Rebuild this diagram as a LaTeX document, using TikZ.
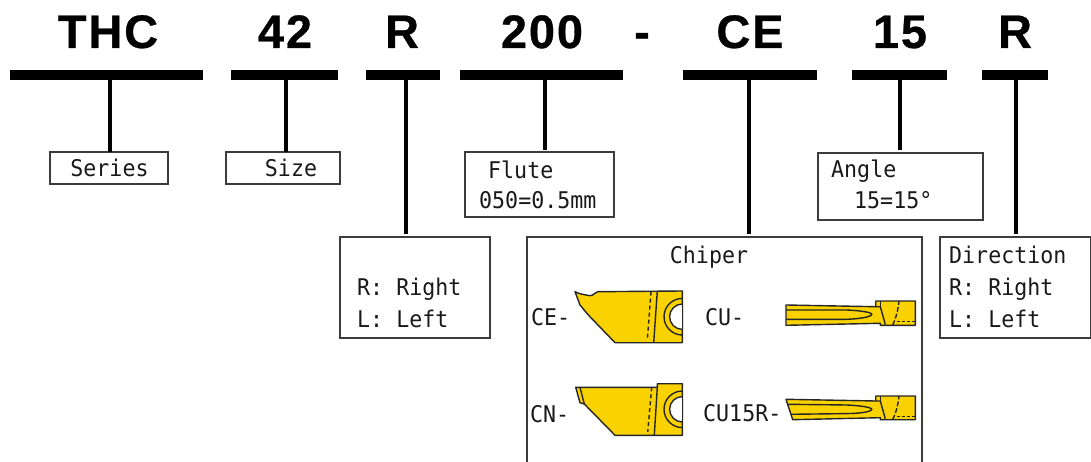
\documentclass[tikz,border=0pt]{standalone}
\usepackage{fontspec}
\setmainfont{Liberation Sans}
\newfontfamily\headfont[LetterSpace=4,Ligatures=NoCommon,FakeBold=0.6]{Liberation Sans Bold}
\newfontfamily\labfont[FakeStretch=0.94]{DejaVu Sans Mono}
\definecolor{insert}{RGB}{250,210,0}
\definecolor{boxline}{RGB}{60,60,60}
\begin{document}
\begin{tikzpicture}[x=1pt,y=-1pt,
  head/.style={font=\headfont\fontsize{47}{47}\selectfont,inner sep=0pt,anchor=base,text=black},
  bar/.style={fill=black,draw=none,inner sep=0pt,minimum height=10pt},
  conn/.style={line width=4pt,draw=black},
  lbox/.style={draw=boxline,line width=1.2pt,fill=none,inner sep=0pt,outer sep=0pt,anchor=north west},
  lab/.style={font=\labfont\fontsize{23}{23}\selectfont,inner sep=0pt,anchor=base west,text=black!90},
  tool/.style={fill=insert,draw=black!85,line width=1.4pt,line join=round},
  edge1/.style={draw=black!85,line width=1.4pt},
  dash1/.style={draw=black!85,line width=1.4pt,dash pattern=on 4pt off 3pt}]
\useasboundingbox (0,0) rectangle (1091,462);
% headings
\node[head] (h1) at (108,48) {THC};
\node[head] (h2) at (285,48) {42};
\node[head] (h3) at (402,48) {R};
\node[head] (h4) at (542,48) {200};
\node[head] (h5) at (642,48) {-};
\node[head] (h6) at (750,48) {CE};
\node[head] (h7) at (900,48) {15};
\node[head] (h8) at (1015,48) {R};
% bars
\node[bar,minimum width=193pt] (b1) at (106.5,75) {};
\node[bar,minimum width=107pt] (b2) at (284.5,75) {};
\node[bar,minimum width=74pt] (b3) at (403,75) {};
\node[bar,minimum width=163pt] (b4) at (541.5,75) {};
\node[bar,minimum width=134pt] (b5) at (750,75) {};
\node[bar,minimum width=95pt] (b6) at (899.5,75) {};
\node[bar,minimum width=66pt] (b7) at (1015,75) {};
% boxes
\node[lbox,minimum width=118pt,minimum height=32pt] (s1) at (50,152) {};
\node[lbox,minimum width=114pt,minimum height=32pt] (s2) at (226,152) {};
\node[lbox,minimum width=150pt,minimum height=101pt] (s3) at (340,237) {};
\node[lbox,minimum width=149pt,minimum height=65pt] (s4) at (465,152) {};
\node[lbox,minimum width=165pt,minimum height=67pt] (s6) at (818,153) {};
\node[lbox,minimum width=151pt,minimum height=101pt] (s7) at (940,237) {};
\node[lbox,draw=none,minimum width=395pt,minimum height=225pt] (s5) at (527,237) {};
\draw[boxline,line width=1.2pt] (s5.south west) -- (s5.north west) -- (s5.north east) -- (s5.south east);
% connectors
\coordinate (c1) at (110,0); \coordinate (c2) at (286,0); \coordinate (c3) at (406,0);
\coordinate (c4) at (545,0); \coordinate (c5) at (749,0); \coordinate (c6) at (900,0);
\coordinate (c7) at (1016,0);
\draw[conn] (b1.south -| c1) -- (s1.north -| c1);
\draw[conn] (b2.south -| c2) -- (s2.north -| c2);
\draw[conn,shorten >=3pt] (b3.south -| c3) -- (s3.north -| c3);
\draw[conn,shorten >=2pt] (b4.south -| c4) -- (s4.north -| c4);
\draw[conn,shorten >=3pt] (b5.south -| c5) -- (s5.north -| c5);
\draw[conn,shorten >=3pt] (b6.south -| c6) -- (s6.north -| c6);
\draw[conn,shorten >=3pt] (b7.south -| c7) -- (s7.north -| c7);
% labels
\node[lab,anchor=base] (t1) at (109.5,177) {Series};
\node[lab,anchor=base] (t2) at (291,177) {Size};
\node[lab] (t3) at (357,295) {R: Right};
\node[lab] (t4) at (357,327) {L: Left};
\node[lab] (t5) at (488,179) {Flute};
\node[lab] (t6) at (479,209) {050=0.5mm};
\node[lab] (t7) at (831,178) {Angle};
\node[lab] (t8) at (854,209) {15=15°};
\node[lab,anchor=base] (t9) at (709,263) {Chiper};
\node[lab] (t10) at (949,263) {Direction};
\node[lab] (t11) at (949,295) {R: Right};
\node[lab] (t12) at (949,327) {L: Left};
\node[lab] (t13) at (531,325) {CE-};
\node[lab] (t14) at (705,325) {CU-};
\node[lab] (t15) at (530,422) {CN-};
\node[lab] (t16) at (703,421) {CU15R-};
% CE insert
\draw[tool] (575,291.7) .. controls (579,294) and (586,295) .. (590,295.7) .. controls (594,295.5) and (595,292) .. (597.7,291.7) -- (682.3,291) -- (682.3,342.7) -- (615,342.7) -- (588.3,315) -- (580,305) -- cycle;
\draw[edge1] (657.3,291) -- (653.7,342.7);
\draw[dash1] (651,291.7) -- (647.3,340);
\fill[white] (682.3,304) arc[start angle=-90,end angle=-270,radius=12.7] -- cycle;
\draw[edge1] (682.3,298.4) arc[start angle=-90,end angle=-270,radius=18.3];
\draw[edge1] (682.3,304) arc[start angle=-90,end angle=-270,radius=12.7];
\draw[edge1,line width=1.6pt] (682.3,291) -- (682.3,342.7);
% CN insert
\draw[tool] (575.7,387.3) -- (657.3,387.3) -- (657.3,383.7) -- (682.3,383.7) -- (682.3,435.3) -- (615,435.3) -- (584.3,404) -- (580,402.7) -- cycle;
\draw[edge1] (580,387.3) -- (584.3,404);
\draw[edge1] (657.3,387.3) -- (654.3,435.3);
\draw[dash1] (651.7,387.3) -- (647.7,432);
\fill[white] (682.3,396.6) arc[start angle=-90,end angle=-270,radius=12.7] -- cycle;
\draw[edge1] (682.3,391) arc[start angle=-90,end angle=-270,radius=18.3];
\draw[edge1] (682.3,396.6) arc[start angle=-90,end angle=-270,radius=12.7];
\draw[edge1,line width=1.6pt] (682.3,383.7) -- (682.3,435.3);
% CU insert
\draw[tool] (786,305) -- (875.7,306.7) -- (875.7,301) -- (915.3,301) -- (915.3,325.3) -- (880.3,325.3) -- (880.3,323.3) -- (786,325.3) -- cycle;
\draw[edge1] (786,310) -- (846.7,310) .. controls (858,310.5) and (871.7,312) .. (871.7,314.3) .. controls (871.7,317) and (858,319) .. (846.7,319.3) -- (786,319.3);
\draw[edge1] (875.7,306.7) -- (880.3,306.7) -- (885,323.3) -- (885,325.3);
\draw[edge1] (880.3,301) -- (880.3,306.7);
\draw[dash1,dash pattern=on 5pt off 2pt] (892.7,325) .. controls (896,318) and (898,310) .. (899,301);
\draw[dash1,dash pattern=on 3pt off 2pt] (896.7,321.7) -- (915.3,321.7);
% CU15R insert
\draw[tool] (786,399.3) -- (875.7,401) -- (875.7,396) -- (915.3,396) -- (915.3,419.7) -- (880.3,419.7) -- (880.3,417.7) -- (792.7,419.7) -- cycle;
\draw[edge1] (788,404.3) -- (846.7,405) .. controls (858,405.5) and (871.7,407) .. (871.7,409.3) .. controls (871.7,412) and (858,413.5) .. (846.7,413.6) -- (790.7,414.3);
\draw[edge1] (875.7,401) -- (880.3,401) -- (885,417.7) -- (885,419.7);
\draw[edge1] (880.3,396) -- (880.3,401);
\draw[dash1,dash pattern=on 5pt off 2pt] (892.7,419.5) .. controls (896,413) and (898,405) .. (899,396);
\draw[dash1,dash pattern=on 3pt off 2pt] (896.7,416.5) -- (915.3,416.5);
\end{tikzpicture}
\end{document}
